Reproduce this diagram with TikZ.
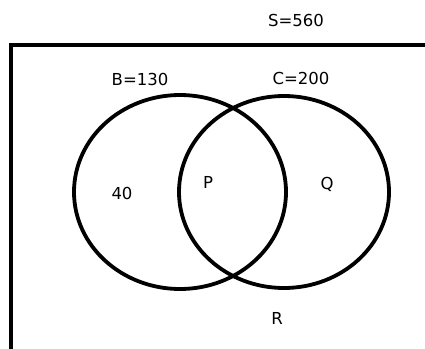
\documentclass[tikz,border=0pt]{standalone}
\usepackage{fontspec}
\setmainfont{DejaVu Sans}
\usetikzlibrary{math}

\begin{document}
\begin{tikzpicture}[x=1pt, y=-1pt, lbl/.style={font=\fontsize{16.5}{18}\selectfont, inner sep=0}]
\tikzmath{
\rx=106;
\ry=97;
}
\clip (0,0) rectangle (425,348);
\useasboundingbox (0,0) rectangle (425,348);

\draw[line width=4] (11,45) rectangle (440,370);

\draw[line width=3.8] (180,192) ellipse [x radius=\rx, y radius=\ry];
\draw[line width=3.8] (284,192) ellipse [x radius=\rx-1, y radius=\ry-1];

\node[lbl] (S) at (296,20) {S=560};
\node[lbl] (B) at (140,79) {B=130};
\node[lbl] (C) at (301,78) {C=200};
\node[lbl] (only B) at (122,193) {40};
\node[lbl] (P) at (208,182) {P};
\node[lbl] (Q) at (327,184) {Q};
\node[lbl] (R) at (277,318) {R};

\end{tikzpicture}
\end{document}
